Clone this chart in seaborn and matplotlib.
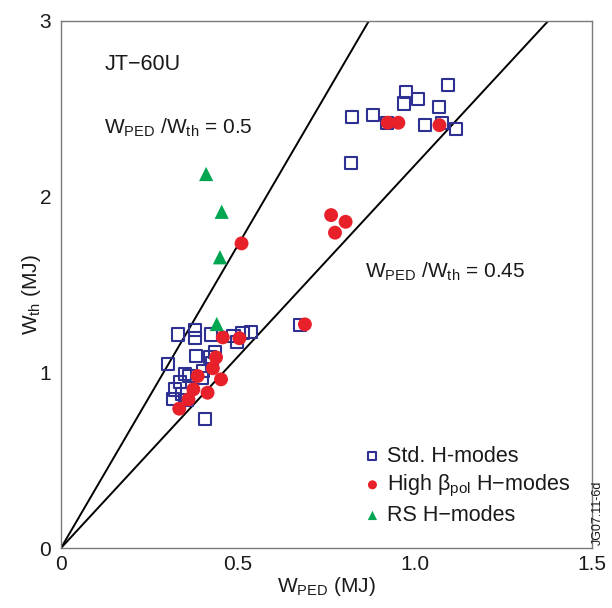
import numpy as np
import pandas as pd
import matplotlib
matplotlib.use("Agg")
import matplotlib.pyplot as plt
import seaborn as sns

sns.set_theme(style="white")
plt.rcParams["font.family"] = ["Liberation Sans", "DejaVu Sans"]
plt.rcParams["mathtext.fontset"] = "custom"
plt.rcParams["mathtext.rm"] = "Liberation Sans"
plt.rcParams["mathtext.it"] = "Liberation Sans:italic"

# Standard H-modes: pedestal energy vs total stored energy (MJ)
std_wped = [0.821, 0.882, 0.920, 0.974, 0.969, 1.009, 1.094, 1.067, 1.029, 1.077,
            1.116, 0.819, 0.675,
            0.331, 0.379, 0.379, 0.424, 0.487, 0.498, 0.513, 0.536, 0.381, 0.421,
            0.435, 0.303, 0.350, 0.362, 0.402, 0.336, 0.397, 0.322, 0.341, 0.316,
            0.355, 0.407, 0.426]
std_wth = [2.455, 2.464, 2.421, 2.594, 2.531, 2.554, 2.635, 2.512, 2.407, 2.421,
           2.384, 2.190, 1.269,
           1.216, 1.241, 1.194, 1.216, 1.207, 1.174, 1.222, 1.228, 1.093, 1.089,
           1.117, 1.046, 0.990, 0.979, 1.009, 0.947, 0.966, 0.903, 0.876, 0.850,
           0.842, 0.733, 1.051]

# High beta_pol H-modes
hbp_wped = [0.923, 0.953, 1.069, 0.510, 0.763, 0.804, 0.774, 0.689,
            0.457, 0.504, 0.438, 0.429, 0.386, 0.452, 0.374, 0.414, 0.360, 0.334]
hbp_wth = [2.421, 2.421, 2.407, 1.734, 1.895, 1.857, 1.795, 1.273,
           1.199, 1.194, 1.085, 1.023, 0.979, 0.960, 0.903, 0.884, 0.846, 0.793]

# Reversed-shear H-modes
rs_wped = [0.410, 0.454, 0.449, 0.440]
rs_wth = [2.129, 1.914, 1.655, 1.275]

# Guide lines through the origin (W_th per W_PED)
guide_slopes = [3.45, 2.18]

df = pd.concat([
    pd.DataFrame({"W_PED": std_wped, "W_th": std_wth, "group": "Std. H-modes"}),
    pd.DataFrame({"W_PED": hbp_wped, "W_th": hbp_wth, "group": "High β$_{\\rm pol}$ H\u2212modes"}),
    pd.DataFrame({"W_PED": rs_wped, "W_th": rs_wth, "group": "RS H\u2212modes"}),
], ignore_index=True)

navy = "#2e3192"
red = "#e8202a"
green = "#00a651"
ink = "#1a1a1a"

fig = plt.figure(figsize=(6.12, 6.08), dpi=100)
ax = fig.add_axes([61 / 612, 1 - 548 / 608, 531 / 612, 527 / 608])

for slope in guide_slopes:
    ax.axline((0, 0), slope=slope, color="black", lw=1.4, zorder=1)

groups = df["group"].unique()
sub = df[df["group"] == groups[0]]
sns.scatterplot(data=sub, x="W_PED", y="W_th", ax=ax, marker="s", s=78,
                facecolor="none", edgecolor=navy, linewidth=1.5,
                label=groups[0], zorder=3)
sub = df[df["group"] == groups[1]]
sns.scatterplot(data=sub, x="W_PED", y="W_th", ax=ax, marker="o", s=100,
                color=red, edgecolor="none", linewidth=0,
                label=groups[1], zorder=4)
sub = df[df["group"] == groups[2]]
sns.scatterplot(data=sub, x="W_PED", y="W_th", ax=ax, marker="^", s=105,
                color=green, edgecolor="none", linewidth=0,
                label=groups[2], zorder=5)

ax.set_xlim(0, 1.5)
ax.set_ylim(0, 3)
ax.set_xticks([0, 0.5, 1.0, 1.5])
ax.set_xticklabels(["0", "0.5", "1.0", "1.5"])
ax.set_xticks([0.25, 0.75, 1.25], minor=True)
ax.set_yticks([0, 1, 2, 3])
ax.set_yticklabels(["0", "1", "2", "3"])
ax.set_yticks([0.5, 1.5, 2.5], minor=True)

spine_col = "#7a7a7a"
for sp in ax.spines.values():
    sp.set_color(spine_col)
    sp.set_linewidth(1.0)
ax.tick_params(which="major", direction="in", length=10, width=1.0,
               color=spine_col, labelsize=15, labelcolor=ink)
ax.tick_params(which="minor", direction="in", length=5, width=1.0,
               color=spine_col)
ax.tick_params(axis="x", which="major", pad=5)
ax.tick_params(axis="y", which="major", pad=7)

ax.set_xlabel("W$_{\\rm PED}$ (MJ)", fontsize=15, color=ink, labelpad=1)
ax.set_ylabel("W$_{\\rm th}$ (MJ)", fontsize=15, color=ink)
ax.yaxis.set_label_coords(-0.034, 0.48)

ax.text(0.122, 2.75, "JT\u221260U", fontsize=15.5, va="center", ha="left",
        color=ink)
ax.text(0.122, 2.39, "W$_{\\rm PED}$ /W$_{\\rm th}$ = 0.5", fontsize=15,
        va="center", ha="left", color=ink)
ax.text(0.86, 1.57, "W$_{\\rm PED}$ /W$_{\\rm th}$ = 0.45", fontsize=15,
        va="center", ha="left", color=ink)

leg = ax.legend(loc="upper left", bbox_to_anchor=(0.55, 0.21), frameon=False,
                fontsize=15.5, markerscale=0.65, handletextpad=0.2,
                labelspacing=0.28, borderaxespad=0, handlelength=1.0)
for t in leg.get_texts():
    t.set_color(ink)

fig.text(0.977, 0.103, "JG07.11-6d", rotation=90, fontsize=9,
         ha="center", va="bottom", color=ink)

fig.savefig("out.png", dpi=100)
